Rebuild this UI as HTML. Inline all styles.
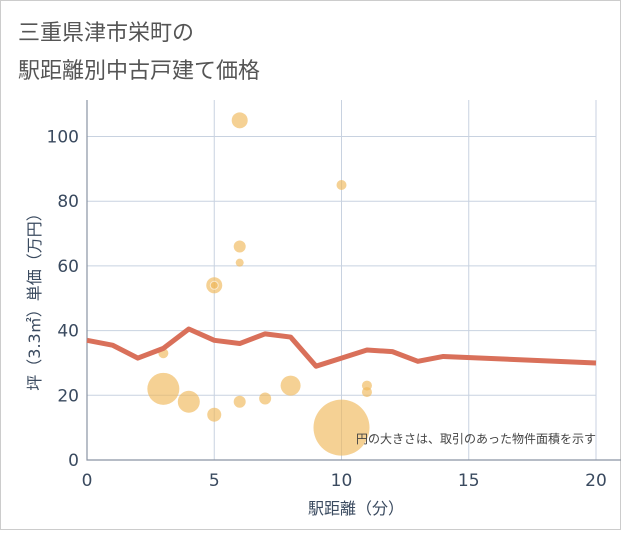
<!DOCTYPE html>
<html><head><meta charset="utf-8"><style>
body{margin:0;background:#fff;}
svg text{font-family:"DejaVu Sans","Noto Sans CJK JP",sans-serif;}
</style></head><body>
<svg width="621" height="530" xmlns="http://www.w3.org/2000/svg">
<rect x="0.5" y="0.5" width="620" height="529" fill="#fff" stroke="#ccc"/>
<text x="18" y="40" font-size="22" fill="#555">三重県津市栄町の</text>
<text x="18" y="78" font-size="22" fill="#555">駅距離別中古戸建て価格</text>
<g id="grid"></g>
<g id="axes"></g>
<g id="bubbles"></g>
<g id="line"></g>
<text x="596" y="443" font-size="12" fill="#444" text-anchor="end">円の大きさは、取引のあった物件面積を示す</text>
<text x="356" y="514" font-size="16" fill="#3a4a5f" text-anchor="middle">駅距離（分）</text>
<text transform="translate(40,298) rotate(-90)" font-size="16" fill="#3a4a5f" text-anchor="middle">坪（3.3㎡）単価（万円）</text>
</svg>
<script>
const xTicks=[0,5,10,15,20];
const yTicks=[0,20,40,60,80,100];
const lineX=[0,1,2,3,4,5,6,7,8,9,10,11,12,13,14,20];
const lineY=[37,35.5,31.5,34.5,40.5,37,36,39,38,29,31.5,34,33.5,30.5,32,30];
const bubX=[6,10,6,6,5,5,3,3,4,5,6,7,8,11,11,10];
const bubY=[105,85,66,61,54,54,33,22,18,14,18,19,23,23,21,10];
const bubR=[8,5,6,4,8,4,5,16,11,7,6,6,10,5,5,28];
const NS="http://www.w3.org/2000/svg";
const X0=87,X1=596,Y0=460,Y1=136.5;
const sx=v=>X0+(X1-X0)*v/20;
const sy=v=>Y0-(Y0-Y1)*v/100;
function mk(tag,attrs,parent){const e=document.createElementNS(NS,tag);for(const k in attrs)e.setAttribute(k,attrs[k]);parent.appendChild(e);return e;}
const grid=document.getElementById('grid'),axes=document.getElementById('axes');
xTicks.forEach(t=>{
 if(t>0){const l=mk('line',{x1:sx(t),x2:sx(t),y1:100,y2:Y0,stroke:'#c8d2e0'},grid);
 
 }
 const tx=mk('text',{x:sx(t),y:486,'font-size':17,fill:'#3a4a5f','text-anchor':'middle'},axes);tx.textContent=t;
 
 
});
yTicks.forEach(t=>{
 if(t>0){const l=mk('line',{x1:X0,x2:X1,y1:sy(t),y2:sy(t),stroke:'#c8d2e0'},grid);
 
 }
 const tx=mk('text',{x:79,y:sy(t)+6,'font-size':17,fill:'#3a4a5f','text-anchor':'end'},axes);tx.textContent=t;
 
 
});
const ax=mk('path',{d:`M${X0},100V${Y0}H${X1+25}`,fill:'none',stroke:'#8a94a3','stroke-width':1.2},axes);


const bg=document.getElementById('bubbles');
bubX.forEach((x,i)=>{
 const c=mk('circle',{cx:sx(x),cy:sy(bubY[i]),r:bubR[i],fill:'rgba(240,185,90,0.65)',stroke:i===5?'rgba(255,255,255,0.6)':'none'},bg);
 
 
});
const pts=lineX.map((x,i)=>sx(x)+','+sy(lineY[i])).join(' ');
const pl=mk('polyline',{points:pts,fill:'none',stroke:'#d9705a','stroke-width':5,'stroke-linejoin':'round'},document.getElementById('line'));


</script>
</body></html>
